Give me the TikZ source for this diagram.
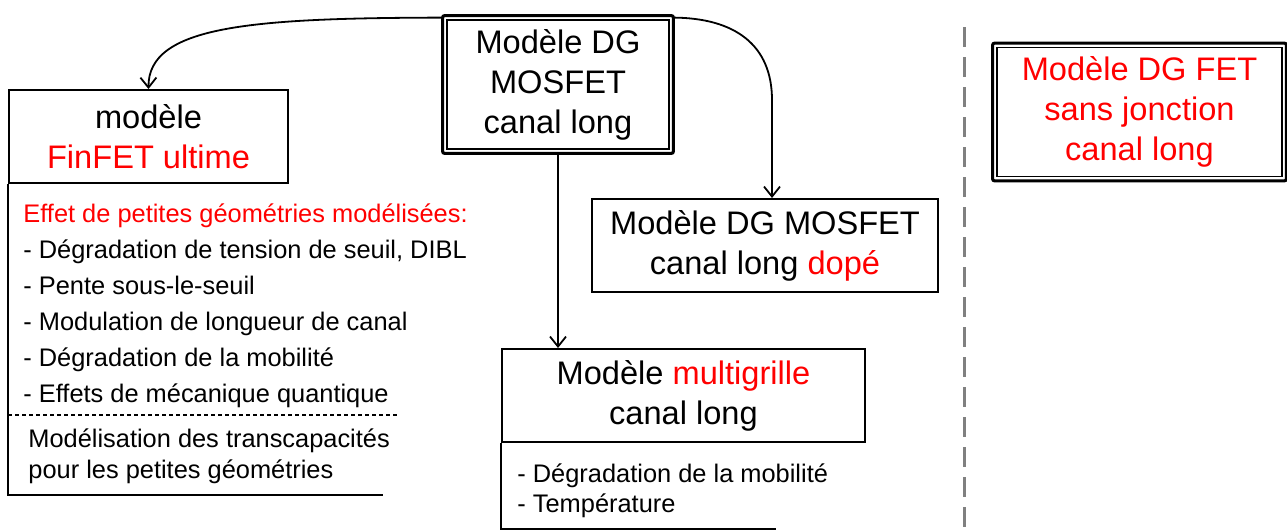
\documentclass[tikz,border=0pt]{standalone}
\usepackage{fontspec}
\setmainfont{Liberation Sans}
\usetikzlibrary{arrows.meta}
\begin{document}
\begin{tikzpicture}[x=0.5pt,y=-0.5pt,
  big/.style={font=\fontsize{16.3}{20}\selectfont, align=center, inner sep=0pt},
  item/.style={font=\fontsize{12.7}{15}\selectfont, anchor=base west, inner sep=0pt},
  sbox/.style={draw, line width=1pt, big},
  dbox/.style={big},
  outerline/.style={line width=1.5pt, rounded corners=1pt},
  innerline/.style={line width=0.75pt},
  conn/.style={line width=0.9pt, -{Straight Barb[length=5pt,width=8pt]}},
  frameline/.style={line width=1pt},
  sepline/.style={line width=1.5pt, draw={rgb,255:red,128;green,128;blue,128}, dash pattern=on 10pt off 5pt},
]
\useasboundingbox (0,0) rectangle (1287,530);

% main boxes
\node[dbox, minimum width=115pt, minimum height=68.5pt] (dg) at (558,84.5) {Modèle DG\\MOSFET\\canal long};
\draw[outerline] (dg.north west) rectangle (dg.south east);
\draw[innerline] ([shift={(2.2pt,-2.2pt)}]dg.north west) rectangle ([shift={(-2.2pt,2.2pt)}]dg.south east);

\node[sbox, minimum width=139.5pt, minimum height=46.5pt] (fin) at (148.5,136.5) {modèle\\\textcolor{red}{FinFET ultime}};

\node[sbox, minimum width=173pt, minimum height=46.5pt] (dope) at (765,245.5) {Modèle DG MOSFET\\canal long \textcolor{red}{dopé}};

\node[sbox, minimum width=181.5pt, minimum height=46.5pt] (multi) at (683.5,395.5) {Modèle \textcolor{red}{multigrille}\\canal long};

\node[dbox, text=red, minimum width=146.5pt, minimum height=68.5pt] (jl) at (1139.5,112) {Modèle DG FET\\sans jonction\\canal long};
\draw[outerline] (jl.north west) rectangle (jl.south east);
\draw[innerline] ([shift={(2.2pt,-2.2pt)}]jl.north west) rectangle ([shift={(-2.2pt,2.2pt)}]jl.south east);

% connectors
\draw[conn] ([yshift=-1pt]dg.north west) .. controls (250,18) and (148,26) .. (fin.north);
\draw[conn] ([yshift=-1pt]dg.north east) .. controls (735,18) and (772,45) .. (772,100) -- ([xshift=3.5pt]dope.north);
\draw[conn] (dg.south) -- (dg.south |- multi.north);

% open frames
\coordinate (finend) at (383,495);
\draw[frameline] (fin.south west) |- (finend);
\coordinate (dashend) at (398,415);
\draw[line width=0.75pt, dash pattern=on 2pt off 1.5pt] (fin.south west |- dashend) -- (dashend);
\coordinate (multiend) at (776,529);
\draw[frameline] (multi.south west) |- (multiend);

% separator
\coordinate (septop) at (964,27);
\coordinate (sepbot) at (964,530);
\draw[sepline] (septop) -- (sepbot);

% lists
\node[item, text=red] (l0) at (23,222) {Effet de petites géométries modélisées:};
\node[item] (l1) at (23,258) {- Dégradation de tension de seuil, DIBL};
\node[item] (l2) at (23,294) {- Pente sous-le-seuil};
\node[item] (l3) at (23,330) {- Modulation de longueur de canal};
\node[item] (l4) at (23,366) {- Dégradation de la mobilité};
\node[item] (l5) at (23,402) {- Effets de mécanique quantique};
\node[item] (t1) at (28,447) {Modélisation des transcapacités};
\node[item] (t2) at (28,478) {pour les petites géométries};
\node[item] (m1) at (517,482) {- Dégradation de la mobilité};
\node[item] (m2) at (517,512) {- Température};
\end{tikzpicture}
\end{document}
